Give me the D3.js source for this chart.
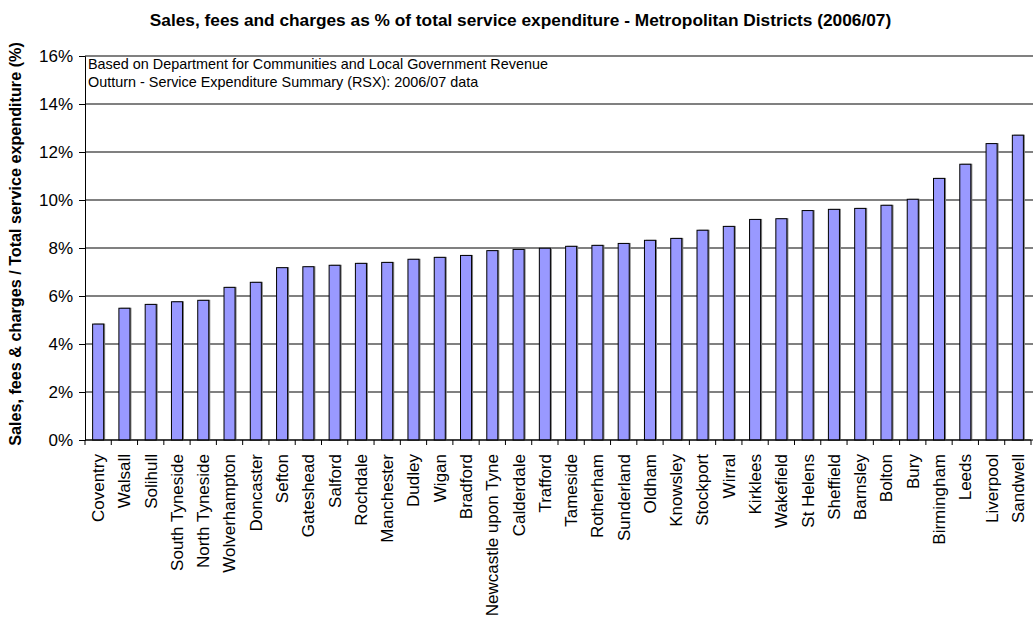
<!DOCTYPE html>
<html>
<head>
<meta charset="utf-8">
<script src="https://cdn.jsdelivr.net/npm/d3@7"></script>
<style>
  html, body { margin: 0; padding: 0; background: #fff; }
  svg { display: block; font-family: "Liberation Sans", Arial, sans-serif; }
</style>
</head>
<body>
<svg id="chart" width="1033" height="619"></svg>
<script>
const districts = ["Coventry","Walsall","Solihull","South Tyneside","North Tyneside","Wolverhampton","Doncaster","Sefton","Gateshead","Salford","Rochdale","Manchester","Dudley","Wigan","Bradford","Newcastle upon Tyne","Calderdale","Trafford","Tameside","Rotherham","Sunderland","Oldham","Knowsley","Stockport","Wirral","Kirklees","Wakefield","St Helens","Sheffield","Barnsley","Bolton","Bury","Birmingham","Leeds","Liverpool","Sandwell"];
const salesPct = [4.83,5.49,5.65,5.76,5.82,6.36,6.57,7.18,7.22,7.28,7.36,7.40,7.53,7.61,7.69,7.89,7.94,7.99,8.07,8.11,8.19,8.32,8.40,8.74,8.90,9.19,9.22,9.56,9.61,9.65,9.78,10.03,10.90,11.49,12.35,12.70];
const yTicks = [0,2,4,6,8,10,12,14,16];
const titleText = "Sales, fees and charges as % of total service expenditure - Metropolitan Districts (2006/07)";
const yLabelText = "Sales, fees & charges / Total service expenditure (%)";
const noteLines = ["Based on Department for Communities and Local Government Revenue","Outturn - Service Expenditure Summary (RSX): 2006/07 data"];

const svg = d3.select("#chart");
const plotLeft = 85, plotRight = 1031, plotTop = 56, plotBottom = 440;

const x = d3.scaleBand().domain(districts).range([plotLeft, plotRight]).padding(0);
const y = d3.scaleLinear().domain([0, 16]).range([plotBottom, plotTop]);

// gridlines
svg.append("g").selectAll("line").data(yTicks).join("line")
  .attr("x1", plotLeft).attr("x2", 1033)
  .attr("y1", d => y(d)).attr("y2", d => y(d))
  .attr("stroke", "#808080").attr("stroke-width", 2);

// bars
const barW = x.bandwidth() * 0.42;
const bars = svg.append("g");
bars.selectAll("rect.shadow").data(salesPct).join("rect")
  .attr("class", "shadow")
  .attr("x", (d, i) => x(districts[i]) + (x.bandwidth() - barW) / 2 + 1.5)
  .attr("y", d => y(d) - 0.5)
  .attr("width", barW).attr("height", d => plotBottom - y(d))
  .attr("fill", "#808080");
bars.selectAll("rect.bar").data(salesPct).join("rect")
  .attr("class", "bar")
  .attr("x", (d, i) => x(districts[i]) + (x.bandwidth() - barW) / 2)
  .attr("y", d => y(d))
  .attr("width", barW).attr("height", d => plotBottom - y(d))
  .attr("fill", "#9999FF").attr("stroke", "#000").attr("stroke-width", 1);

// y axis
const yAxis = d3.axisLeft(y).tickValues(yTicks).tickFormat(d => d + "%").tickSize(6).tickPadding(6);
const gy = svg.append("g").attr("transform", `translate(${plotLeft},0)`).call(yAxis);
gy.select(".domain").attr("stroke", "#000");
gy.selectAll(".tick line").attr("stroke", "#000");
gy.selectAll(".tick text").attr("font-size", 17).attr("font-family", "Liberation Sans, Arial, sans-serif").attr("fill", "#000");

// x axis
svg.append("line").attr("x1", plotLeft).attr("x2", plotRight).attr("y1", plotBottom).attr("y2", plotBottom).attr("stroke", "#000");
const bounds = districts.map(d => x(d)).concat([plotRight]);
svg.append("g").selectAll("line").data(bounds).join("line")
  .attr("x1", d => d).attr("x2", d => d)
  .attr("y1", plotBottom).attr("y2", plotBottom + 5)
  .attr("stroke", "#000");
svg.append("g").selectAll("text").data(districts).join("text")
  .attr("transform", d => `translate(${x(d) + x.bandwidth() / 2},454) rotate(-90)`)
  .attr("text-anchor", "end").attr("dy", "0.35em")
  .attr("font-size", 17).text(d => d);

// title
svg.append("text").attr("x", 520.5).attr("y", 26).attr("text-anchor", "middle")
  .attr("font-size", 17.3).attr("font-weight", "bold").text(titleText);

// y label
svg.append("text").attr("transform", "translate(21,244) rotate(-90)")
  .attr("text-anchor", "middle").attr("font-size", 16.2).attr("font-weight", "bold").text(yLabelText);

// note
svg.append("g").selectAll("text").data(noteLines).join("text")
  .attr("x", 88).attr("y", (d, i) => 69 + i * 18)
  .attr("font-size", 14.4).text(d => d);
</script>
</body>
</html>
